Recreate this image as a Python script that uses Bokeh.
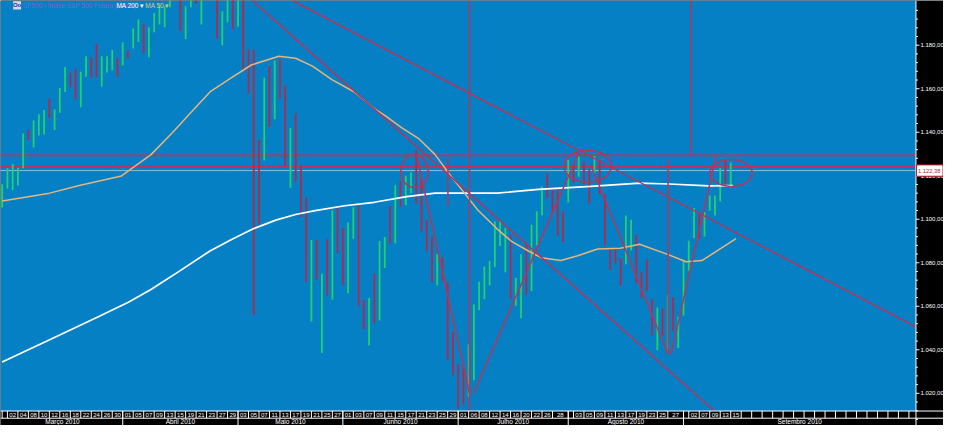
from bokeh.plotting import figure
from bokeh.models import Range1d, ColumnDataSource
from bokeh.core.properties import value
from bokeh.embed import file_html
from bokeh.resources import INLINE

# ---------------- data ----------------
months = ["Março 2010", "Abril 2010", "Maio 2010", "Junho 2010",
          "Julho 2010", "Agosto 2010", "Setembro 2010"]
month_start = [0, 23, 45, 65, 87, 108, 130]

day_of_month = [1, 2, 3, 4, 5, 8, 9, 10, 11, 12, 15, 16, 17, 18, 19, 22, 23, 24, 25, 26, 29, 30, 31,
                1, 2, 5, 6, 7, 8, 9, 12, 13, 14, 15, 16, 19, 20, 21, 22, 23, 26, 27, 28, 29, 30,
                3, 4, 5, 6, 7, 10, 11, 12, 13, 14, 17, 18, 19, 20, 21, 24, 25, 26, 27, 28,
                1, 2, 3, 4, 7, 8, 9, 10, 11, 14, 15, 16, 17, 18, 21, 22, 23, 24, 25, 28, 29, 30,
                1, 2, 6, 7, 8, 9, 12, 13, 14, 15, 16, 19, 20, 21, 22, 23, 26, 27, 28, 29, 30,
                2, 3, 4, 5, 6, 9, 10, 11, 12, 13, 16, 17, 18, 19, 20, 23, 24, 25, 26, 27, 30, 31,
                1, 2, 3, 7, 8, 9, 10, 13, 14, 15]
hidden_day_labels = [107, 129]

highs = [1116.1, 1123.5, 1125.4, 1123.7, 1139.4, 1141.1, 1145.4, 1148.3, 1150.2, 1155.5, 1150.5, 1160.3,
         1170.0, 1167.3, 1169.2, 1167.8, 1174.9, 1174.5, 1180.7, 1174.9, 1174.9, 1177.8, 1174.1,
         1181.4, 1177.5, 1187.7, 1191.8, 1189.6, 1188.2, 1194.8, 1198.5, 1198.0, 1210.7, 1213.9,
         1210.2, 1197.9, 1208.5, 1211.0, 1210.3, 1217.3, 1219.8, 1212.9, 1195.6, 1207.1, 1208.0,
         1205.1, 1201.0, 1178.0, 1178.0, 1136.5, 1165.0, 1170.4, 1173.0, 1173.6, 1161.5, 1142.0,
         1148.7, 1124.3, 1110.0, 1090.5, 1090.5, 1075.0, 1090.8, 1104.0, 1106.0,
         1096.0, 1098.5, 1105.5, 1106.0, 1062.8, 1063.8, 1075.0, 1090.0, 1091.8, 1106.0, 1115.6,
         1117.7, 1120.0, 1121.5, 1131.8, 1118.5, 1099.8, 1092.0, 1084.0, 1082.6, 1071.0, 1048.1,
         1033.6, 1032.9, 1042.5, 1060.9, 1071.3, 1078.2, 1080.8, 1099.1, 1099.5, 1096.1, 1093.0,
         1073.1, 1083.9, 1088.0, 1097.5, 1103.7, 1115.0, 1121.0, 1114.7, 1115.0, 1103.7,
         1127.3, 1125.4, 1128.7, 1126.6, 1122.8, 1129.2, 1127.2, 1111.4, 1086.7, 1086.4, 1082.2,
         1101.7, 1099.8, 1092.8, 1075.6, 1081.6, 1063.3, 1059.4, 1059.1, 1065.2, 1064.3, 1055.2,
         1081.3, 1090.1, 1105.1, 1103.1, 1103.3, 1110.9, 1110.9, 1123.4, 1127.4, 1126.1]
lows = [1105.4, 1114.0, 1113.5, 1115.5, 1123.5, 1136.5, 1133.0, 1138.5, 1139.0, 1146.5, 1141.0, 1149.0,
        1158.5, 1160.7, 1155.0, 1151.5, 1165.5, 1165.0, 1165.1, 1161.0, 1167.5, 1168.5, 1165.5,
        1170.7, 1174.0, 1178.5, 1181.5, 1176.3, 1174.5, 1186.0, 1189.5, 1188.2, 1197.5, 1208.5,
        1186.5, 1182.8, 1197.5, 1198.9, 1189.5, 1205.1, 1211.1, 1183.0, 1180.0, 1190.5, 1187.3,
        1188.6, 1168.1, 1157.8, 1056.0, 1097.5, 1127.0, 1142.5, 1146.0, 1155.5, 1124.5, 1114.5,
        1117.2, 1101.0, 1071.0, 1053.0, 1072.3, 1038.5, 1065.0, 1063.0, 1084.6,
        1069.9, 1066.0, 1091.0, 1060.3, 1049.5, 1042.0, 1052.2, 1053.5, 1077.6, 1088.8, 1089.0,
        1105.5, 1106.5, 1112.0, 1107.0, 1094.2, 1085.3, 1071.0, 1069.5, 1071.5, 1035.2, 1028.3,
        1013.0, 1015.0, 1018.4, 1026.0, 1058.2, 1063.3, 1069.6, 1078.0, 1087.7, 1075.6, 1063.3,
        1060.2, 1054.5, 1065.3, 1067.0, 1087.9, 1101.8, 1109.8, 1103.1, 1092.4, 1089.5,
        1107.7, 1116.8, 1119.5, 1116.1, 1107.2, 1120.9, 1111.6, 1088.0, 1076.7, 1079.8, 1069.5,
        1079.3, 1085.8, 1070.7, 1063.9, 1067.1, 1046.7, 1039.8, 1046.5, 1039.7, 1048.8, 1040.9,
        1055.7, 1076.3, 1091.4, 1091.0, 1092.1, 1103.9, 1101.7, 1108.2, 1115.6, 1114.6]
up = [1, 1, 1, 1, 1, 0, 1, 1, 1, 0, 1, 1, 1, 0, 0, 1, 1, 0, 0, 1, 1, 1, 0,
      1, 0, 1, 1, 0, 1, 1, 1, 1, 1, 1, 0, 1, 1, 0, 1, 1, 0, 0, 1, 1, 0,
      1, 0, 0, 0, 0, 1, 0, 1, 0, 0, 1, 0, 0, 0, 1, 0, 1, 0, 1, 0,
      0, 1, 1, 0, 0, 1, 0, 1, 1, 0, 1, 0, 1, 1, 0, 0, 0, 0, 1, 0, 0, 0,
      0, 0, 1, 1, 1, 1, 1, 1, 1, 1, 0, 1, 1, 0, 1, 1, 1, 0, 0, 0, 0,
      1, 0, 1, 0, 0, 1, 0, 0, 0, 0, 0, 1, 1, 0, 0, 0, 0, 1, 0, 1, 0, 1,
      1, 1, 1, 0, 1, 1, 1, 1, 0, 1]

ma200_idx = [0, 9.06, 18.44, 24.07, 28.39, 33.45, 39.64, 43.77, 47.9, 52.21, 55.97, 59.72, 65.35,
             70.98, 77.17, 82.61, 89.74, 94.43, 102.31, 112.25, 121.63, 127.26, 134.77, 139.46]
ma200_val = [1034.4, 1044.6, 1055.3, 1061.9, 1067.7, 1075.6, 1085.4, 1090.7, 1095.6, 1099.6, 1102.2,
             1104.0, 1106.2, 1107.8, 1110.4, 1112.0, 1112.0, 1112.0, 1113.7, 1115.1, 1116.6, 1116.2,
             1115.3, 1115.5]
ma50_idx = [0, 9.06, 14.69, 22.76, 28.39, 32.51, 35.7, 39.64, 43.77, 47.52, 52.78, 56.0, 59.2, 62.9,
            67.2, 71.0, 73.2, 76.2, 79.4, 82.6, 85.6, 88.2, 90.7, 94.4, 97.2, 100.4, 102.9, 106.6,
            109.8, 113.6, 117.9, 121.6, 126.7, 130.5, 133.5, 137.2, 140.0]
ma50_val = [1108.4, 1112.0, 1115.5, 1119.9, 1129.7, 1139.9, 1148.3, 1158.5, 1165.1, 1170.9, 1174.9,
            1174.0, 1170.4, 1164.2, 1158.5, 1150.9, 1147.4, 1142.1, 1137.2, 1129.7, 1119.9, 1112.0,
            1104.4, 1095.6, 1089.8, 1085.4, 1082.3, 1081.0, 1083.2, 1086.3, 1086.7, 1088.5, 1084.1,
            1080.5, 1081.0, 1086.7, 1091.1]

last_price = 1122.38
last_price_text = "1.122,38"
level_lines = [1129.37, 1124.2]
# drawn trend lines: (idx0, price0, idx1, price1)
trend_lines = [(47.71, 1200.55, 135.89, 1011.85),
               (55.4, 1200.55, 174.35, 1050.57),
               (79.04, 1129.68, 89.17, 1019.82),
               (89.92, 1019.82, 110.0, 1130.56),
               (112.25, 1125.25, 127.07, 1037.99),
               (127.63, 1037.99, 136.26, 1129.68),
               (89.17, 1011.85, 89.17, 1200.55),
               (131.39, 1129.37, 131.39, 1200.55),
               (127.07, 1127.5, 127.07, 1038.0),
               (85.05, 1128.35, 85.05, 1106.2)]
# drawn ellipses: (idx, price, width in bars, height in points)
ellipses = [(78.67, 1122.15, 5.25, 15.06),
            (111.7, 1124.4, 9.0, 14.6),
            (139.08, 1121.3, 8.07, 12.4)]
price_ticks = [1020, 1040, 1060, 1080, 1100, 1120, 1140, 1160, 1180]
price_tick_labels = ["1.020,00", "1.040,00", "1.060,00", "1.080,00", "1.100,00",
                     "1.120,00", "1.140,00", "1.160,00", "1.180,00"]
title_text = "SP500 | Índice S&P 500 Futuro (Diário)"

# ---------------- layout constants ----------------
X0, XA, XR = -0.32, 174.35, 179.6      # left edge, price-axis line, right edge (bar units)
Y0, Y1 = 1005.2, 1200.55
STRIP_TOP = 1011.85
ROW_SPLIT = 1008.55
BLUE = "#0680c4"
GREEN = "#1fd26c"
RED = "#b02a4e"
DRAW = "#b8345a"
FONT = "Liberation Sans"
PX = 1 / 5.33                      # one reference pixel in bar units

p = figure(width=943, height=425, x_range=Range1d(X0, XR), y_range=Range1d(Y0, Y1),
           output_backend="svg", toolbar_location=None, x_axis_location=None,
           y_axis_location=None, min_border=0,
           background_fill_color="black", border_fill_color="black", outline_line_color=None)
p.grid.visible = False

# plot area
p.quad(left=[X0], right=[XA], bottom=[STRIP_TOP], top=[Y1], fill_color=BLUE, line_color=None)

# horizontal levels + last price
for lv in level_lines:
    p.segment(x0=[X0], y0=[lv], x1=[XA], y1=[lv], line_color=DRAW, line_width=1.6)
p.segment(x0=[X0], y0=[last_price], x1=[XA], y1=[last_price], line_color="white",
          line_width=1, line_dash="1 1")

# bars
idx = list(range(len(highs)))
bars = ColumnDataSource(dict(x=idx, hi=highs, lo=lows,
                             c=[GREEN if u else RED for u in up]))
p.segment(x0="x", y0="lo", x1="x", y1="hi", line_color="c", line_width=1.8, source=bars)

# moving averages
p.line(ma200_idx, ma200_val, line_color="white", line_width=1.7)
p.line(ma50_idx, ma50_val, line_color="#e8b47a", line_width=1.5)

# drawn lines / ellipses
p.segment(x0=[t[0] for t in trend_lines], y0=[t[1] for t in trend_lines],
          x1=[t[2] for t in trend_lines], y1=[t[3] for t in trend_lines],
          line_color=DRAW, line_width=1.5)
p.ellipse(x=[e[0] for e in ellipses], y=[e[1] for e in ellipses],
          width=[e[2] for e in ellipses], height=[e[3] for e in ellipses],
          fill_color=None, line_color=DRAW, line_width=1.5)

# ---------------- date strip ----------------
p.quad(left=[X0], right=[XR], bottom=[Y0], top=[STRIP_TOP], fill_color="black", line_color=None)
p.segment(x0=[X0, X0], y0=[STRIP_TOP, ROW_SPLIT], x1=[XR, XR], y1=[STRIP_TOP, ROW_SPLIT],
          line_color="white", line_width=1)

n = len(highs)
label_idx = [i for i in range(1, n, 2) if i not in hidden_day_labels]
future = list(range(n + 1 if n % 2 == 0 else n, int(XA) + 1, 2))
bounds = sorted(set([0] + label_idx + month_start[1:] + future))
day_x, day_t = [], []
for k, b in enumerate(bounds):
    if b in label_idx:
        nxt = bounds[k + 1] if k + 1 < len(bounds) else XA
        day_x.append((b + nxt) / 2.0)
        day_t.append("%02d" % day_of_month[b])
p.segment(x0=bounds, y0=[ROW_SPLIT] * len(bounds), x1=bounds, y1=[STRIP_TOP] * len(bounds),
          line_color="white", line_width=1)
p.segment(x0=month_start[1:], y0=[Y0] * 6, x1=month_start[1:], y1=[STRIP_TOP] * 6,
          line_color="white", line_width=1)
p.text(x=day_x, y=[(STRIP_TOP + ROW_SPLIT) / 2] * len(day_x), text=day_t,
       text_color="white", text_font=value(FONT), text_font_size="6px",
       text_align="center", text_baseline="middle")
m_edges = month_start + [XA]
p.text(x=[(m_edges[i] + m_edges[i + 1]) / 2 for i in range(len(months))],
       y=[(ROW_SPLIT + Y0) / 2] * len(months), text=months,
       text_color="white", text_font=value(FONT), text_font_size="6.5px",
       text_align="center", text_baseline="middle")

# ---------------- price axis (right) ----------------
p.segment(x0=[XA], y0=[Y0], x1=[XA], y1=[Y1], line_color="white", line_width=1)
minor = [1008 + 4 * k for k in range(49) if (1008 + 4 * k) % 20 != 0]
p.segment(x0=[XA] * len(minor), y0=minor, x1=[XA + 2 * PX] * len(minor), y1=minor,
          line_color="white", line_width=1)
p.segment(x0=[XA] * len(price_ticks), y0=price_ticks, x1=[XA + 3.5 * PX] * len(price_ticks),
          y1=price_ticks, line_color="white", line_width=1)
p.text(x=[XA + 4.5 * PX] * len(price_ticks), y=price_ticks, text=price_tick_labels,
       text_color="white", text_font=value(FONT), text_font_size="6px",
       text_align="left", text_baseline="middle")

# last price tag
p.quad(left=[XA + 0.5 * PX], right=[XR - 0.5 * PX], bottom=[last_price - 2.6],
       top=[last_price + 2.6], fill_color="white", line_color="#c0202c", line_width=1)
p.text(x=[XA + 2 * PX], y=[last_price], text=[last_price_text], text_color="#c0202c",
       text_font=value(FONT), text_font_size="5.8px", text_align="left", text_baseline="middle")

# ---------------- header ----------------
HY = 1198.3
p.quad(left=[2.1], right=[3.6], bottom=[HY - 1.9], top=[HY + 1.9],
       fill_color="#d8d4f4", line_color=None)
p.text(x=[2.85], y=[HY], text=["Oo"], text_color="#2a2a8a", text_font=value(FONT),
       text_font_size="6px", text_font_style="bold", text_align="center", text_baseline="middle")
p.text(x=[3.9, 21.8, 27.3], y=[HY, HY, HY], text=[title_text, "MA 200 ▾", "MA 50 ▾"],
       text_color=["#8a5cc8", "white", "#e8c07a"], text_font=value(FONT),
       text_font_size="6.5px", text_align="left", text_baseline="middle")

open("out.html", "w").write(file_html(p, INLINE))
